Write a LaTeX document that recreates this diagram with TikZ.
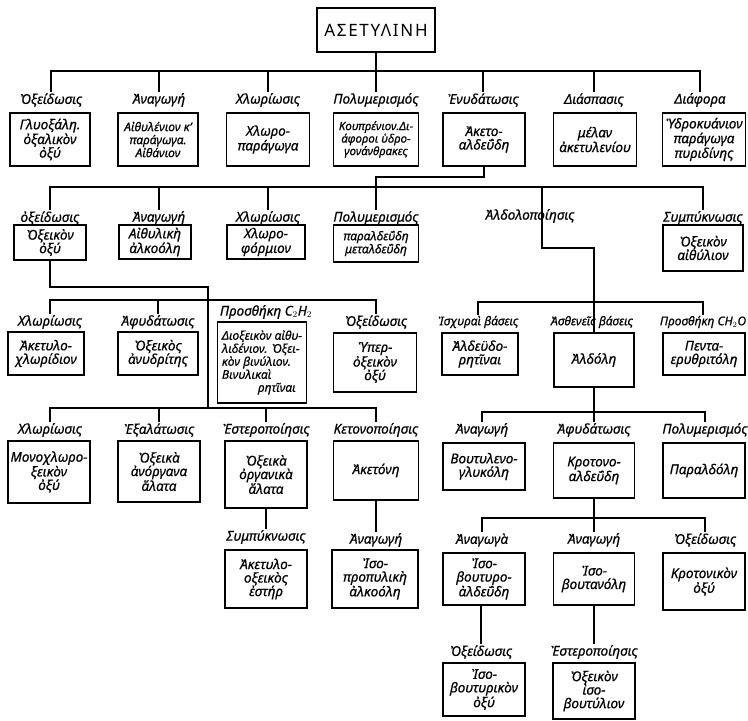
\documentclass[tikz,border=0pt]{standalone}
\usepackage{fontspec}
\setmainfont{Noto Sans}
\newfontfamily\titlefamily[LetterSpace=10]{Noto Sans}
\usetikzlibrary{positioning}

\newcommand\boxfont{\fontsize{13.5}{13.5}\selectfont\itshape\addfontfeatures{FakeBold=0.6}}
\newcommand\midbox{\fontsize{12}{13}\selectfont\itshape\addfontfeatures{FakeBold=0.6}}
\newcommand\smallbox{\fontsize{11.5}{12.5}\selectfont\itshape\addfontfeatures{FakeBold=0.6}}
\newcommand\lblfont{\fontsize{13.5}{14}\selectfont\itshape\addfontfeatures{FakeBold=0.6}}
\newcommand\smalllbl{\fontsize{12}{13}\selectfont\itshape\addfontfeatures{FakeBold=0.6}}
\newcommand\titlefont{\fontsize{17}{19}\selectfont\titlefamily}

\tikzset{
  wire/.style={line width=1.6pt},
  box/.style={draw, line width=1.6pt, align=center, inner sep=1pt, minimum width=80pt, font=\boxfont},
  lbl/.style={inner sep=1pt, font=\lblfont},
}

\begin{document}
\begin{tikzpicture}[x=1pt,y=-1pt]
\useasboundingbox (0,0) rectangle (748,721);
\coordinate (bus1) at (0,71);
\coordinate (bus2) at (0,187);
\coordinate (bus3) at (0,300);
\coordinate (bus3r) at (0,302);
\coordinate (bus4) at (0,408);
\coordinate (bus4r) at (0,412);
\coordinate (bus5r) at (0,518);
\coordinate (k1) at (0,177);
\coordinate (k2) at (208,287);
\coordinate (k3) at (208,408);
\coordinate (ald1) at (542,187);
\coordinate (ald2) at (542,248);

% acetylene
\node[box, font=\titlefont, minimum width=118pt, minimum height=44pt] (title) at (376,30) {ΑΣΕΤΥΛΙΝΗ};

% first row
\node[lbl] (la1) at (51,100) {Ὀξείδωσις};
\node[lbl] (la2) at (159,100) {Ἀναγωγή};
\node[lbl] (la3) at (268,100) {Χλωρίωσις};
\node[lbl] (la4) at (376,100) {Πολυμερισμός};
\node[lbl] (la5) at (483,100) {Ἐνυδάτωσις};
\node[lbl] (la6) at (594,100) {Διάσπασις};
\node[lbl] (la7) at (700,100) {Διάφορα};
\node[box, minimum height=53pt] (ba1) at (50,139.5) {Γλυοξάλη.\\ὀξαλικὸν\\ὀξύ};
\node[box, minimum height=53pt, font=\midbox] (ba2) at (158,139.5) {Αἰθυλένιον κ’\\παράγωγα.\\Αἰθάνιον};
\node[box, minimum height=53pt, minimum width=83pt] (ba3) at (268,139.5) {Χλωρο-\\παράγωγα};
\node[box, minimum height=53pt, minimum width=85pt, font=\smallbox] (ba4) at (376,139.5) {Κουπρένιον.Δι-\\άφοροι ὑδρο-\\γονάνθρακες};
\node[box, minimum height=53pt, minimum width=82pt] (ba5) at (484,139.5) {Ἀκετο-\\αλδεΰδη};
\node[box, minimum height=53pt, minimum width=83pt] (ba6) at (595,139.5) {μέλαν\\ἀκετυλενίου};
\node[box, minimum height=53pt, minimum width=83pt] (ba7) at (704,139.5) {Ὑδροκυάνιον\\παράγωγα\\πυριδίνης};

\draw[wire] (title.south) -- (la4.north);
\draw[wire] (la1.north) |- (bus1 -| la7.north) -- (la7.north);
\foreach \n in {la2,la3,la5,la6} \draw[wire] (\n.north) -- (\n.north |- bus1);

% second row
\node[lbl] (lb1) at (50,218) {ὀξείδωσις};
\node[lbl] (lb2) at (159,218) {Ἀναγωγή};
\node[lbl] (lb3) at (268,218) {Χλωρίωσις};
\node[lbl] (lb4) at (376,218) {Πολυμερισμός};
\node[lbl] (lb5) at (530,216) {Ἀλδολοποίησις};
\node[lbl] (lb6) at (703,218) {Συμπύκνωσις};
\node[box, minimum height=35pt, minimum width=72pt] (bb1) at (50,242.5) {Ὀξεικὸν\\ὀξύ};
\node[box, minimum height=34pt, minimum width=72pt] (bb2) at (155,242) {Αἰθυλικὴ\\ἀλκοόλη};
\node[box, minimum height=34pt, minimum width=78pt] (bb3) at (266,242) {Χλωρο-\\φόρμιον};
\node[box, minimum height=37pt, minimum width=85pt, font=\midbox] (bb4) at (376,243.5) {παραλδεΰδη\\μεταλδεΰδη};
\node[box, minimum height=46pt] (bb6) at (703,248) {Ὀξεικὸν\\αἰθύλιον};

\draw[wire] (ba5.south) -- (ba5.south |- k1) -| (lb4.north);
\draw[wire] (lb1.north) |- (bus2 -| lb6.north) -- (lb6.north);
\foreach \n in {lb2,lb3} \draw[wire] (\n.north) -- (\n.north |- bus2);

% third row
\node[lbl] (lc1) at (50,322) {Χλωρίωσις};
\node[lbl] (lc2) at (158,322) {Ἀφυδάτωσις};
\node[lbl] (lc3) at (266,312) {Προσθήκη C$_2$H$_2$};
\node[lbl] (lc4) at (376,322) {Ὀξείδωσις};
\node[lbl, font=\smalllbl] (lc5) at (478,322) {Ἰσχυραὶ βάσεις};
\node[lbl, font=\smalllbl] (lc6) at (592,322) {Ἀσθενεῖς βάσεις};
\node[lbl, font=\smalllbl] (lc7) at (703,322) {Προσθήκη CH$_2$O};
\node[box, minimum height=43pt, minimum width=76pt] (bc1) at (46,353.5) {Ἀκετυλο-\\χλωρίδιον};
\node[box, minimum height=43pt] (bc2) at (158,353.5) {Ὀξεικὸς\\ἀνυδρίτης};
\node[box, minimum height=81pt, minimum width=89pt, align=left, font=\midbox] (bc3) at (262,362.5) {Διοξεικὸν αἰθυ-\\λιδένιον. Ὀξει-\\κὸν βινύλιον.\\Βινυλικαὶ\\\hspace*{36pt}ρητῖναι};
\node[box, minimum height=59pt, minimum width=83pt] (bc4) at (375,362.5) {Ὑπερ-\\ὀξεικὸν\\ὀξύ};
\node[box, minimum height=42pt, minimum width=76pt] (bc5) at (480,354) {Ἀλδεϋδο-\\ρητῖναι};
\node[box, minimum height=54pt] (bc6) at (594,360) {Ἀλδόλη};
\node[box, minimum height=42pt, minimum width=82pt] (bc7) at (704,354) {Πεντα-\\ερυθριτόλη};

\draw[wire] (bb1.south) |- (k2) -- (k3);
\draw[wire] (lc1.north) |- (bus3 -| lc4.north) -- (lc4.north);
\draw[wire] (lc2.north) -- (lc2.north |- bus3);
\draw[wire] (ald1) -- (ald2) -| (bc6.north);
\draw[wire] (lc5.north) |- (bus3r -| lc7.north) -- (lc7.north);

% fourth row
\node[lbl] (ld1) at (50,430) {Χλωρίωσις};
\node[lbl] (ld2) at (159,430) {Ἐξαλάτωσις};
\node[lbl] (ld3) at (266,430) {Ἐστεροποίησις};
\node[lbl] (ld4) at (376,430) {Κετονοποίησις};
\node[lbl] (ld5) at (482,430) {Ἀναγωγή};
\node[lbl] (ld6) at (594,430) {Ἀφυδάτωσις};
\node[lbl] (ld7) at (705,430) {Πολυμερισμός};
\node[box, minimum height=62pt, minimum width=82pt] (bd1) at (49,472) {Μονοχλωρο-\\ξεικὸν\\ὀξύ};
\node[box, minimum height=61pt, minimum width=82pt] (bd2) at (159,471.5) {Ὀξεικὰ\\ἀνόργανα\\ἅλατα};
\node[box, minimum height=67pt, minimum width=82pt] (bd3) at (266,474.5) {Ὀξεικὰ\\ὀργανικὰ\\ἅλατα};
\node[box, minimum height=59pt, minimum width=85pt] (bd4) at (376,470.5) {Ἀκετόνη};
\node[box, minimum height=47pt, minimum width=82pt] (bd5) at (484,466.5) {Βουτυλενο-\\γλυκόλη};
\node[box, minimum height=55pt, minimum width=81pt] (bd6) at (594,470.5) {Κροτονο-\\αλδεΰδη};
\node[box, minimum height=55pt, minimum width=82pt] (bd7) at (704,470.5) {Παραλδόλη};

\draw[wire] (ld1.north) |- (bus4 -| ld4.north) -- (ld4.north);
\foreach \n in {ld2,ld3} \draw[wire] (\n.north) -- (\n.north |- bus4);
\draw[wire] (bc6.south) -- (ld6.north);
\draw[wire] (ld5.north) |- (bus4r -| ld7.north) -- (ld7.north);

% fifth row
\node[lbl] (le3) at (266,537) {Συμπύκνωσις};
\node[lbl] (le4) at (376,540) {Ἀναγωγή};
\node[lbl] (le5) at (482,540) {Ἀναγωγὰ};
\node[lbl] (le6) at (594,540) {Ἀναγωγή};
\node[lbl] (le7) at (705,540) {Ὀξείδωσις};
\node[box, minimum height=58pt, minimum width=82pt] (be3) at (266,579) {Ἀκετυλο-\\οξεικὸς\\ἐστήρ};
\node[box, minimum height=58pt, minimum width=86pt] (be4) at (375,579) {Ἰσο-\\προπυλικὴ\\ἀλκοόλη};
\node[box, minimum height=52pt, minimum width=82pt] (be5) at (484,579) {Ἰσο-\\βουτυρο-\\ἀλδεΰδη};
\node[box, minimum height=52pt, minimum width=81pt] (be6) at (594,579) {Ἰσο-\\βουτανόλη};
\node[box, minimum height=57pt, minimum width=82pt] (be7) at (704,581.5) {Κροτονικὸν\\ὀξύ};

\draw[wire] (bd3.south) -- (le3.north);
\draw[wire] (bd4.south) -- (le4.north);
\draw[wire] (bd6.south) -- (le6.north);
\draw[wire] (le5.north) |- (bus5r -| le7.north) -- (le7.north);

% sixth row
\node[lbl] (lf5) at (481,652) {Ὀξείδωσις};
\node[lbl] (lf6) at (594,652) {Ἐστεροποίησις};
\node[box, minimum height=53pt, minimum width=82pt] (bf5) at (484,689.5) {Ἰσο-\\βουτυρικὸν\\ὀξύ};
\node[box, minimum height=56pt, minimum width=82pt] (bf6) at (594,691) {Ὀξεικὸν\\ἰσο-\\βουτύλιον};

\draw[wire] (lf5.north |- be5.south) -- (lf5.north);
\draw[wire] (be6.south) -- (lf6.north);
\end{tikzpicture}
\end{document}
